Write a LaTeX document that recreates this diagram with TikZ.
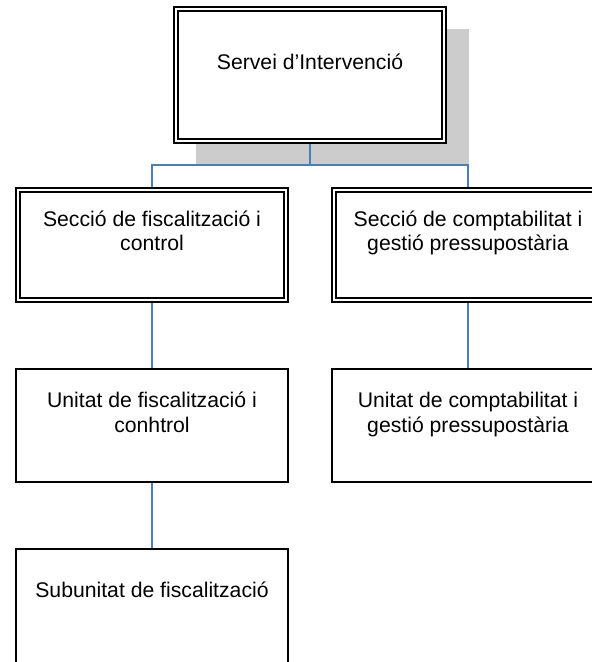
\documentclass[tikz,border=0pt]{standalone}
\usepackage{fontspec}
\setmainfont{Liberation Sans}
\usetikzlibrary{backgrounds}
\definecolor{connblue}{RGB}{74,126,187}
\definecolor{shadowgray}{RGB}{204,204,204}
\begin{document}
\begin{tikzpicture}[x=0.75pt,y=-0.75pt,
  dbox/.style={draw=black, line width=1.3pt, double=white, double distance=1.7pt, fill=white, inner sep=0pt, outer sep=0pt},
  sbox/.style={draw=black, line width=1.1pt, fill=white, inner sep=0pt, outer sep=0pt},
  txt/.style={font=\fontsize{15.9pt}{18.3pt}\selectfont, inner sep=0pt, anchor=base},
  cn/.style={draw=connblue, line width=0.85pt}]
\useasboundingbox (0,0) rectangle (592,662);
\clip (0,0) rectangle (592,662);
% boxes
\node[dbox, minimum width=201pt, minimum height=99pt] (top) at (310,75) {};
\node[dbox, minimum width=200.6pt, minimum height=82.5pt] (s1) at (152,244.7) {};
\node[dbox, minimum width=200.6pt, minimum height=82.5pt] (s2) at (468,244.7) {};
\node[sbox, minimum width=204pt, minimum height=84.75pt] (u1) at (152,425.5) {};
\node[sbox, minimum width=204pt, minimum height=84.75pt] (u2) at (468,425.5) {};
\node[sbox, minimum width=204pt, minimum height=113.25pt] (sub) at (152,624.5) {};
% texts
\node[txt] (ttop) at (310,69) {Servei d’Intervenció};
\node[txt] (ts1a) at (152,226) {Secció de fiscalització i};
\node[txt] (ts1b) at (152,250) {control};
\node[txt] (ts2a) at (468,226) {Secció de comptabilitat i};
\node[txt] (ts2b) at (468,250) {gestió pressupostària};
\node[txt] (tu1a) at (152,407) {Unitat de fiscalització i};
\node[txt] (tu1b) at (152,432) {conhtrol};
\node[txt] (tu2a) at (468,407) {Unitat de comptabilitat i};
\node[txt] (tu2b) at (468,432) {gestió pressupostària};
\node[txt] (tsub) at (152,597) {Subunitat de fiscalització};
% shadow and connectors behind
\begin{scope}[on background layer]
  \fill[shadowgray] (196,29) rectangle (469,165);
  \draw[cn] (top.south) -- ++(0,24) -| (s1.north);
  \draw[cn] (top.south) -- ++(0,24) -| (s2.north);
  \draw[cn] (s1.south) -- (u1.north);
  \draw[cn] (s2.south) -- (u2.north);
  \draw[cn] (u1.south) -- (sub.north);
\end{scope}
\end{tikzpicture}
\end{document}
